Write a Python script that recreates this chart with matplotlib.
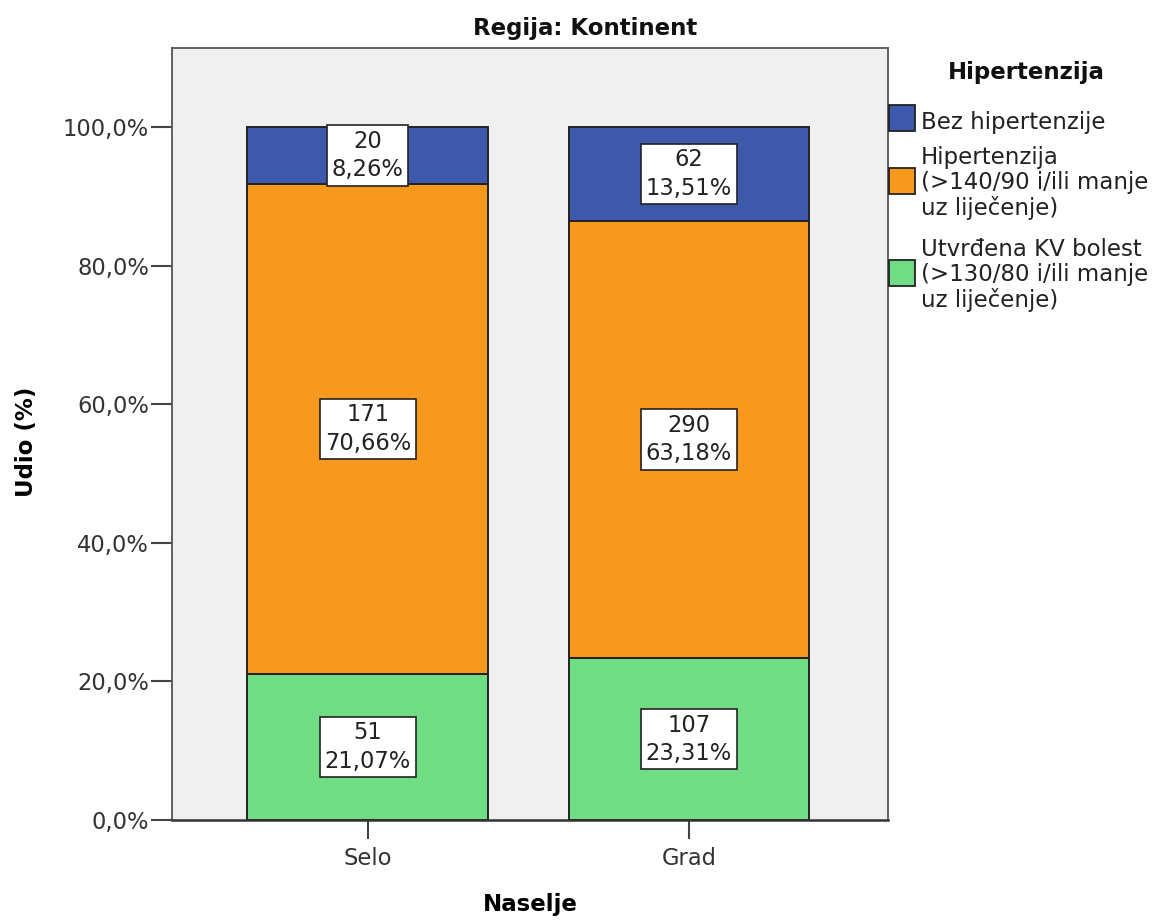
import matplotlib
matplotlib.use("Agg")
import matplotlib.pyplot as plt
from matplotlib.patches import Rectangle

categories = ["Selo", "Grad"]
legend_title = "Hipertenzija"
series_keys = ["green", "orange", "blue"]
series_names = {
    "blue": "Bez hipertenzije",
    "orange": "Hipertenzija\n(>140/90 i/ili manje\nuz liječenje)",
    "green": "Utvrđena KV bolest\n(>130/80 i/ili manje\nuz liječenje)",
}
counts = {
    "green": [51, 107],
    "orange": [171, 290],
    "blue": [20, 62],
}
percents = {
    "green": [21.07, 23.31],
    "orange": [70.66, 63.18],
    "blue": [8.26, 13.51],
}
colors = {"green": "#70DC84", "orange": "#F8981D", "blue": "#3E58AC"}
yticks = [0, 20, 40, 60, 80, 100]
ytick_labels = ["0,0%", "20,0%", "40,0%", "60,0%", "80,0%", "100,0%"]

plt.rcParams['font.family'] = ['DejaVu Sans']
W, H = 1165, 921
fig = plt.figure(figsize=(W/100, H/100), dpi=100)
ax = fig.add_axes([172/W, 1 - 820/H, (888-172)/W, (820-48)/H])
ax.set_facecolor("#F0F0F0")

def fy(py):
    return 1 - py / H

FS = 16.3
x = list(range(len(categories)))
bottom = [0.0, 0.0]
for key in series_keys:
    vals = percents[key]
    ax.bar(x, vals, width=0.75, bottom=bottom, color=colors[key],
           edgecolor="#222222", linewidth=1.4, zorder=2)
    for i in x:
        mid = bottom[i] + vals[i] / 2
        txt = f"{counts[key][i]}\n{vals[i]:.2f}%".replace(".", ",")
        ax.text(i, mid, txt, ha="center", va="center", fontsize=FS,
                color="#222222", linespacing=1.3, zorder=4,
                bbox=dict(boxstyle="square,pad=0.2", fc="white", ec="#222222", lw=1.2))
    bottom = [bottom[i] + vals[i] for i in x]

ax.set_xlim(-0.61, 1.62)
ax.set_ylim(0, 111.4)
ax.set_yticks(yticks)
ax.set_yticklabels(ytick_labels)
ax.set_xticks(x)
ax.set_xticklabels(categories)
ax.tick_params(axis="y", length=15, width=1.5, color="#444444", labelsize=FS, labelcolor="#333333", pad=1.5)
ax.tick_params(axis="x", length=13.5, width=1.5, color="#444444", labelsize=FS, labelcolor="#333333", pad=6)
for s in ax.spines.values():
    s.set_color("#555555")
    s.set_linewidth(1.3)
ax.spines["bottom"].set_linewidth(1.8)
ax.spines["bottom"].set_color("#333333")

fig.text(585/W, fy(29), "Regija: Kontinent", ha="center", va="center",
         fontsize=16.5, fontweight="bold", color="#111111")
ax.set_ylabel("Udio (%)", fontsize=16.5, fontweight="bold")
ax.yaxis.set_label_coords((38-172)/716, 0.49)
ax.set_xlabel("Naselje", fontsize=16.5, fontweight="bold")
ax.xaxis.set_label_coords(0.5, (820-893)/772)

# Legend drawn in figure pixel coordinates
fig.text(1026/W, fy(73), legend_title, ha="center", va="center",
         fontsize=16.5, fontweight="bold", color="#111111")
legend_rows = [("blue", 105, 122), ("orange", 168, 183), ("green", 260, 275)]
for key, sq_top, text_center in legend_rows:
    fig.patches.append(Rectangle((889/W, fy(sq_top + 26)), 26/W, 26/H,
                                 transform=fig.transFigure, fc=colors[key],
                                 ec="#222222", lw=1.3))
    fig.text(921/W, fy(text_center), series_names[key], ha="left", va="center",
             fontsize=16.5, color="#222222", linespacing=1.12)

fig.savefig("out.png", dpi=100)
